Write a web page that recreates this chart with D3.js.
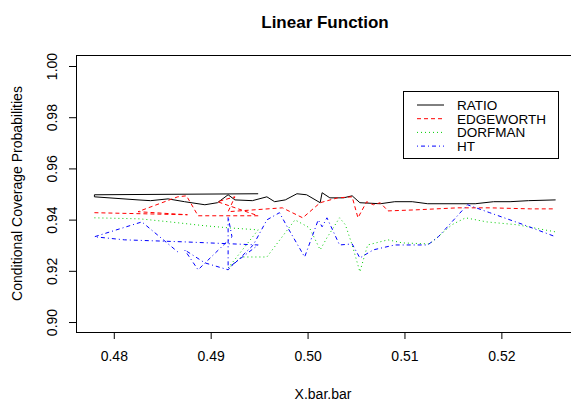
<!DOCTYPE html>
<html>
<head>
<meta charset="utf-8">
<script src="https://cdn.jsdelivr.net/npm/d3@7"></script>
<style>
  body { margin: 0; background: #fff; }
  svg { display: block; font-family: "Liberation Sans", Arial, sans-serif; }
</style>
</head>
<body>
<svg id="chart" width="571" height="401"></svg>
<script>
// values, [X.bar.bar, coverage], in drawing order
const ratioPts = [
  [0.4949, 0.9501], [0.4780, 0.9497], [0.4780, 0.9489], [0.4825, 0.9477], [0.4838, 0.9474],
  [0.4856, 0.9481], [0.4873, 0.9470], [0.4894, 0.9458], [0.4907, 0.9466], [0.4918, 0.9497],
  [0.4925, 0.9477], [0.4943, 0.9474], [0.4958, 0.9489], [0.4966, 0.9470], [0.4977, 0.9477],
  [0.4989, 0.9501], [0.4999, 0.9497], [0.5013, 0.9466], [0.5015, 0.9505], [0.5023, 0.9485],
  [0.5037, 0.9485], [0.5046, 0.9493], [0.5054, 0.9466], [0.5075, 0.9462], [0.5090, 0.9470],
  [0.5108, 0.9470], [0.5124, 0.9462], [0.5173, 0.9462], [0.5192, 0.9470], [0.5209, 0.9470],
  [0.5228, 0.9474], [0.5256, 0.9477]
];
const edgeworthPts = [
  [0.4780, 0.9427], [0.4876, 0.9419], [0.4825, 0.9431], [0.4866, 0.9489], [0.4875, 0.9493],
  [0.4887, 0.9415], [0.4949, 0.9415], [0.4907, 0.9470], [0.4925, 0.9489], [0.4918, 0.9431],
  [0.4974, 0.9446], [0.4995, 0.9407], [0.5013, 0.9466], [0.5031, 0.9485], [0.5046, 0.9489],
  [0.5052, 0.9407], [0.5061, 0.9470], [0.5068, 0.9458], [0.5075, 0.9466], [0.5083, 0.9434],
  [0.5111, 0.9438], [0.5155, 0.9446], [0.5188, 0.9446], [0.5230, 0.9442], [0.5256, 0.9442]
];
const dorfmanPts = [
  [0.4780, 0.9407], [0.4827, 0.9403], [0.4858, 0.9391], [0.4894, 0.9376], [0.4918, 0.9368],
  [0.4949, 0.9360], [0.4918, 0.9211], [0.4932, 0.9254], [0.4958, 0.9254], [0.4987, 0.9399],
  [0.5002, 0.9368], [0.5013, 0.9282], [0.5020, 0.9329], [0.5033, 0.9407], [0.5039, 0.9380],
  [0.5046, 0.9301], [0.5054, 0.9196], [0.5062, 0.9301], [0.5083, 0.9321], [0.5098, 0.9309],
  [0.5126, 0.9305], [0.5149, 0.9380], [0.5163, 0.9407], [0.5185, 0.9391], [0.5216, 0.9380],
  [0.5256, 0.9352]
];
const htPts = [
  [0.4866, 0.9274], [0.4829, 0.9391], [0.4780, 0.9333], [0.4811, 0.9321], [0.4873, 0.9313],
  [0.4949, 0.9301], [0.4918, 0.9211], [0.4918, 0.9411], [0.4922, 0.9333], [0.4887, 0.9204],
  [0.4873, 0.9282], [0.4894, 0.9231], [0.4918, 0.9204], [0.4944, 0.9301], [0.4958, 0.9399],
  [0.4971, 0.9427], [0.4979, 0.9372], [0.4997, 0.9254], [0.5011, 0.9399], [0.5015, 0.9372],
  [0.5020, 0.9407], [0.5033, 0.9301], [0.5046, 0.9305], [0.5054, 0.9250], [0.5059, 0.9262],
  [0.5068, 0.9282], [0.5090, 0.9301], [0.5124, 0.9301], [0.5135, 0.9333], [0.5165, 0.9458],
  [0.5188, 0.9427], [0.5223, 0.9380], [0.5256, 0.9333]
];
const seriesNames = ["RATIO", "EDGEWORTH", "DORFMAN", "HT"];
const xTicks = [0.48, 0.49, 0.50, 0.51, 0.52];
const yTicks = [0.90, 0.92, 0.94, 0.96, 0.98, 1.00];

const styles = [
  { color: "#000000", dash: null },
  { color: "#FF0000", dash: "4,3" },
  { color: "#00CD00", dash: "1,3" },
  { color: "#0000FF", dash: "1,3,4,3" }
];

const svg = d3.select("#chart");
const plotL = 76, plotR = 575, plotT = 55, plotB = 332;

const x = d3.scaleLinear().domain([0.4761, 0.5276]).range([plotL, plotR]);
const y = d3.scaleLinear().domain([0.8961, 1.0043]).range([plotB, plotT]);

// lines
const line = d3.line().x(d => x(d[0])).y(d => y(d[1]));
[ratioPts, edgeworthPts, dorfmanPts, htPts].forEach((pts, i) => {
  svg.append("path")
    .attr("d", line(pts))
    .attr("fill", "none")
    .attr("stroke", styles[i].color)
    .attr("stroke-width", 1)
    .attr("stroke-dasharray", styles[i].dash);
});

// box
svg.append("rect")
  .attr("x", plotL + 0.5).attr("y", plotT + 0.5)
  .attr("width", plotR - plotL).attr("height", plotB - plotT)
  .attr("fill", "none").attr("stroke", "#000");

// x axis
const xAxis = svg.append("g").attr("transform", `translate(0,${plotB})`)
  .call(d3.axisBottom(x).tickValues(xTicks).tickSize(7).tickPadding(12).tickFormat(d3.format(".2f")));
xAxis.select(".domain").attr("d", `M${x(0.48)},0.5H${x(0.52)}`);
xAxis.selectAll("text").attr("font-size", 14).attr("fill", "#000").attr("font-family", null);

// y axis
const yAxis = svg.append("g").attr("transform", `translate(${plotL},0)`)
  .call(d3.axisLeft(y).tickValues(yTicks).tickSize(7).tickFormat(d3.format(".2f")));
yAxis.select(".domain").attr("d", `M0.5,${y(0.90)}V${y(1.00)}`);
yAxis.selectAll("text")
  .attr("font-size", 14).attr("fill", "#000").attr("font-family", null)
  .attr("text-anchor", "middle")
  .attr("x", null).attr("dy", null)
  .attr("transform", `translate(-19,0) rotate(-90)`);

// titles
svg.append("text")
  .attr("x", 325).attr("y", 28)
  .attr("text-anchor", "middle")
  .attr("font-size", 17).attr("font-weight", "bold")
  .text("Linear Function");

svg.append("text")
  .attr("x", 323).attr("y", 399)
  .attr("text-anchor", "middle")
  .attr("font-size", 14)
  .text("X.bar.bar");

svg.append("text")
  .attr("transform", `translate(22,${(plotT + plotB) / 2}) rotate(-90)`)
  .attr("text-anchor", "middle")
  .attr("font-size", 14)
  .text("Conditional Coverage Probabilities");

// legend
const legend = svg.append("g");
legend.append("rect")
  .attr("x", 403.5).attr("y", 91.5).attr("width", 155).attr("height", 67)
  .attr("fill", "#fff").attr("stroke", "#000");
seriesNames.forEach((name, i) => {
  const ly = 105 + i * 13.7;
  legend.append("line")
    .attr("x1", 417).attr("x2", 444).attr("y1", ly).attr("y2", ly)
    .attr("stroke", styles[i].color)
    .attr("stroke-dasharray", styles[i].dash);
  legend.append("text")
    .attr("x", 457).attr("y", ly).attr("dy", "0.36em")
    .attr("font-size", 13.5)
    .text(name);
});
</script>
</body>
</html>
